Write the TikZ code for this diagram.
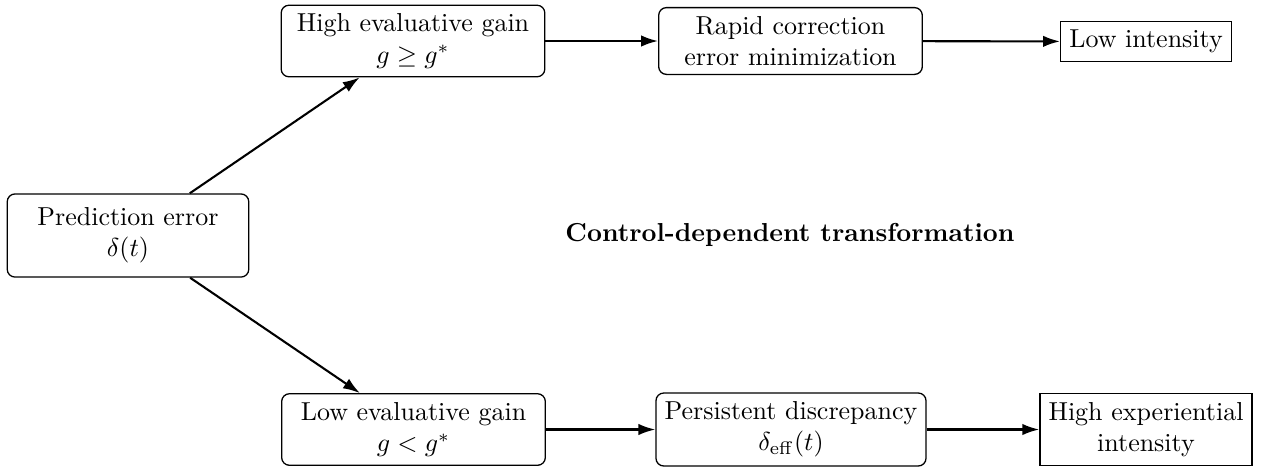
\documentclass[tikz,border=0pt]{standalone}
\usetikzlibrary{arrows.meta}
\begin{document}
\begin{tikzpicture}[x=0.385pt,y=-0.385pt,
  rbox/.style={draw, rounded corners=3pt, align=center, minimum width=101.5pt, line width=0.5pt},
  sbox/.style={draw, align=center, line width=0.5pt},
  conn/.style={-{Latex[length=6.5pt,width=4.4pt]}, line width=0.8pt}]
\useasboundingbox (0,0) rectangle (1264,466);
\node[rbox, minimum width=93pt, minimum height=32pt] (pred) at (128,235.5) {Prediction error\\$\delta(t)$};
\node[rbox] (high) at (413,41) {High evaluative gain\\$g \geq g^{*}$};
\node[rbox] (rapid) at (790.5,41) {Rapid correction\\error minimization};
\node[sbox] (lowint) at (1146,41.5) {Low intensity};
\node[rbox] (low) at (413.5,429.5) {Low evaluative gain\\$g < g^{*}$};
\node[rbox] (pers) at (791,429.5) {Persistent discrepancy\\$\delta_{\mathrm{eff}}(t)$};
\node[sbox] (highint) at (1146,429.5) {High experiential\\intensity};
\node[font=\bfseries] (label) at (790,235) {Control-dependent transformation};
\draw[conn] (pred) -- (high);
\draw[conn] (pred) -- (low);
\draw[conn] (high) -- (rapid);
\draw[conn] (rapid) -- (lowint);
\draw[conn] (low) -- (pers);
\draw[conn] (pers) -- (highint);
\end{tikzpicture}
\end{document}
